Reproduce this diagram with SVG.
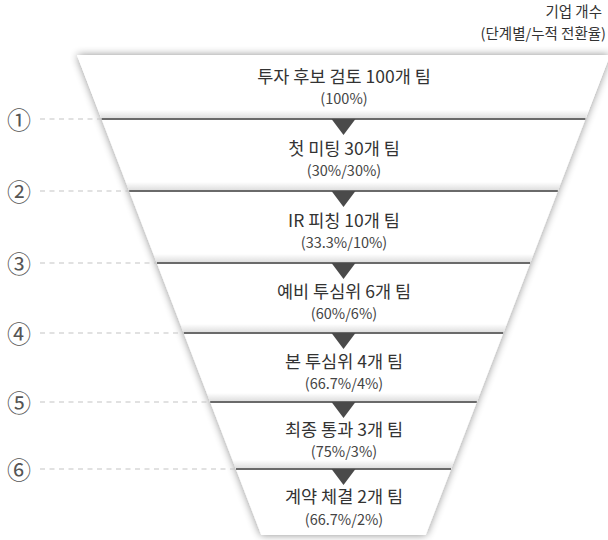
<svg xmlns="http://www.w3.org/2000/svg" width="608" height="540" viewBox="0 0 608 540">
<style>
.t{font-family:"Noto Sans CJK KR","Noto Sans",sans-serif;fill:#333;}
.m{font-size:17.5px;text-anchor:middle;}
.s{font-size:14.5px;text-anchor:middle;fill:#444;}
.h{font-size:14.5px;text-anchor:end;fill:#333;}
.num{font-size:24px;text-anchor:middle;fill:#555;}
.seg{fill:#fff;}
.sep{stroke:#6a6a6a;stroke-width:2;}
.dash{stroke:#c4c4c4;stroke-width:1.2;stroke-dasharray:5 4.5;}
.tri{fill:#4a4a4a;}
</style>
<defs>
<filter id="sh" x="-10%" y="-10%" width="120%" height="120%">
<feGaussianBlur in="SourceAlpha" stdDeviation="4"/>
<feComponentTransfer><feFuncA type="linear" slope="0.45"/></feComponentTransfer>
<feMerge><feMergeNode/><feMergeNode in="SourceGraphic"/></feMerge>
</filter>
<linearGradient id="g" x1="0" y1="0" x2="0" y2="1">
<stop offset="0" stop-color="#000" stop-opacity="0"/>
<stop offset="1" stop-color="#000" stop-opacity="0.14"/>
</linearGradient>
<clipPath id="fc"><polygon points="77,55 610,55 425.7,535 261.3,535"/></clipPath>
</defs>
<rect width="608" height="540" fill="#fff"/>
<text class="t h" x="602" y="17">기업 개수</text>
<text class="t h" x="606" y="39">(단계별/누적 전환율)</text>
<polygon points="77,55 610,55 425.7,535 261.3,535" fill="#fff" filter="url(#sh)"/>
<g id="stage1"><polygon class="seg" points="77,55 610,55 585.4,119 101.6,119"/><rect x="60" y="110" width="560" height="9" fill="url(#g)" clip-path="url(#fc)"/><text class="t m" x="344" y="82.5">투자 후보 검토 100개 팀</text><text class="t s" x="344" y="104">(100%)</text></g>
<g id="stage2"><rect x="60" y="182" width="560" height="9" fill="url(#g)" clip-path="url(#fc)"/><text class="t m" x="344" y="155">첫 미팅 30개 팀</text><text class="t s" x="344" y="175.5">(30%/30%)</text></g>
<g id="stage3"><rect x="60" y="254" width="560" height="9" fill="url(#g)" clip-path="url(#fc)"/><text class="t m" x="344" y="227">IR 피칭 10개 팀</text><text class="t s" x="344" y="247.5">(33.3%/10%)</text></g>
<g id="stage4"><rect x="60" y="324" width="560" height="9" fill="url(#g)" clip-path="url(#fc)"/><text class="t m" x="344" y="298">예비 투심위 6개 팀</text><text class="t s" x="344" y="318.5">(60%/6%)</text></g>
<g id="stage5"><rect x="60" y="393" width="560" height="9" fill="url(#g)" clip-path="url(#fc)"/><text class="t m" x="344" y="368">본 투심위 4개 팀</text><text class="t s" x="344" y="388.5">(66.7%/4%)</text></g>
<g id="stage6"><rect x="60" y="460" width="560" height="9" fill="url(#g)" clip-path="url(#fc)"/><text class="t m" x="344" y="436">최종 통과 3개 팀</text><text class="t s" x="344" y="456.5">(75%/3%)</text></g>
<g id="stage7"><text class="t m" x="344" y="503">계약 체결 2개 팀</text><text class="t s" x="344" y="524.5">(66.7%/2%)</text></g>
<g id="connectors">
<line class="sep" x1="101.6" y1="119" x2="585.4" y2="119"/>
<line class="sep" x1="129.2" y1="191" x2="557.8" y2="191"/>
<line class="sep" x1="156.9" y1="263" x2="530.1" y2="263"/>
<line class="sep" x1="183.8" y1="333" x2="503.2" y2="333"/>
<line class="sep" x1="210.2" y1="402" x2="476.8" y2="402"/>
<line class="sep" x1="236" y1="469" x2="451" y2="469"/>
<polygon class="tri" points="331.5,119 355.5,119 343.5,135"/>
<polygon class="tri" points="331.5,191 355.5,191 343.5,207"/>
<polygon class="tri" points="331.5,263 355.5,263 343.5,279"/>
<polygon class="tri" points="331.5,333 355.5,333 343.5,349"/>
<polygon class="tri" points="331.5,402 355.5,402 343.5,418"/>
<polygon class="tri" points="331.5,469 355.5,469 343.5,485"/>
<line class="dash" x1="40" y1="119" x2="101" y2="119"/>
<line class="dash" x1="40" y1="191" x2="129" y2="191"/>
<line class="dash" x1="40" y1="263" x2="156" y2="263"/>
<line class="dash" x1="40" y1="333" x2="183" y2="333"/>
<line class="dash" x1="40" y1="402" x2="210" y2="402"/>
<line class="dash" x1="40" y1="469" x2="235" y2="469"/>
</g>
<g id="labels">
<text class="t num" x="19" y="128.5">①</text>
<text class="t num" x="19" y="200.5">②</text>
<text class="t num" x="19" y="272.5">③</text>
<text class="t num" x="19" y="342.5">④</text>
<text class="t num" x="19" y="411.5">⑤</text>
<text class="t num" x="19" y="478.5">⑥</text>
</g>
</svg>
